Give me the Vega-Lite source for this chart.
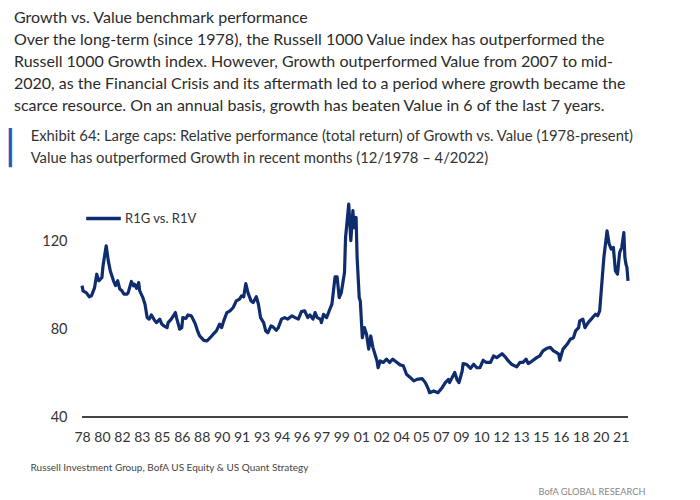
{
  "$schema": "https://vega.github.io/schema/vega-lite/v6.json",
  "background": "white",
  "padding": {"left": 9, "top": 10, "right": 10, "bottom": 4},
  "title": {
    "text": [
      "Growth vs. Value benchmark performance",
      "Over the long-term (since 1978), the Russell 1000 Value index has outperformed the",
      "Russell 1000 Growth index. However, Growth outperformed Value from 2007 to mid-",
      "2020, as the Financial Crisis and its aftermath led to a period where growth became the",
      "scarce resource. On an annual basis, growth has beaten Value in 6 of the last 7 years."
    ],
    "anchor": "start",
    "frame": "group",
    "dx": -68,
    "font": "Lato",
    "fontSize": 16,
    "fontWeight": "normal",
    "color": "#2b2b2b",
    "lineHeight": 22,
    "offset": 15
  },
  "config": {
    "view": {"stroke": null},
    "font": "Lato"
  },
  "vconcat": [
    {
      "width": 546,
      "height": 219,
      "title": {
        "text": "▏",
        "subtitle": [
          "\u2800\u2800Exhibit 64: Large caps: Relative performance (total return) of Growth vs. Value (1978-present)",
          "\u2800\u2800Value has outperformed Growth in recent months (12/1978 – 4/2022)"
        ],
        "anchor": "start",
        "frame": "group",
        "dx": -73,
        "font": "DejaVu Sans",
        "fontSize": 33,
        "fontWeight": "normal",
        "color": "#1f5cc4",
        "subtitleFont": "Lato, DejaVu Sans",
        "subtitleFontSize": 14.8,
        "subtitleColor": "#333333",
        "subtitleLineHeight": 22,
        "subtitlePadding": -37,
        "offset": 28
      },
      "data": {
        "values": [
          {"d": "1978-12-01", "v": 100}, {"d": "1979-01-01", "v": 97.6}, {"d": "1979-04-01", "v": 96.8},
          {"d": "1979-07-01", "v": 94.9}, {"d": "1979-09-01", "v": 95.3}, {"d": "1979-12-01", "v": 99.1},
          {"d": "1980-02-01", "v": 105.2}, {"d": "1980-04-01", "v": 102.2}, {"d": "1980-07-01", "v": 103.7},
          {"d": "1980-08-01", "v": 109}, {"d": "1980-11-01", "v": 118.2}, {"d": "1981-01-01", "v": 111.3},
          {"d": "1981-03-01", "v": 106.7}, {"d": "1981-06-01", "v": 102.2}, {"d": "1981-08-01", "v": 100},
          {"d": "1981-10-01", "v": 102.2}, {"d": "1981-12-01", "v": 98.4}, {"d": "1982-02-01", "v": 97.6},
          {"d": "1982-04-01", "v": 96.1}, {"d": "1982-07-01", "v": 96.1}, {"d": "1982-08-01", "v": 96.8},
          {"d": "1982-11-01", "v": 101.9}, {"d": "1983-01-01", "v": 99.9}, {"d": "1983-02-01", "v": 100.6},
          {"d": "1983-04-01", "v": 98.8}, {"d": "1983-06-01", "v": 101.4}, {"d": "1983-07-01", "v": 97.6},
          {"d": "1983-10-01", "v": 94.5}, {"d": "1983-12-01", "v": 91.5}, {"d": "1984-02-01", "v": 85.4},
          {"d": "1984-04-01", "v": 84.7}, {"d": "1984-06-01", "v": 86.6}, {"d": "1984-09-01", "v": 84.2},
          {"d": "1984-11-01", "v": 83.1}, {"d": "1985-02-01", "v": 84.7}, {"d": "1985-04-01", "v": 82.4},
          {"d": "1985-06-01", "v": 81.6}, {"d": "1985-09-01", "v": 80.8}, {"d": "1985-10-01", "v": 83.1},
          {"d": "1986-01-01", "v": 84.7}, {"d": "1986-05-01", "v": 87.7}, {"d": "1986-06-01", "v": 85.4},
          {"d": "1986-09-01", "v": 80.1}, {"d": "1986-11-01", "v": 80.8}, {"d": "1986-12-01", "v": 85.4},
          {"d": "1987-03-01", "v": 85}, {"d": "1987-05-01", "v": 86.6}, {"d": "1987-08-01", "v": 86.2},
          {"d": "1987-09-01", "v": 85.4}, {"d": "1987-12-01", "v": 82.4}, {"d": "1988-02-01", "v": 79.3},
          {"d": "1988-04-01", "v": 77}, {"d": "1988-08-01", "v": 75}, {"d": "1988-11-01", "v": 74.7},
          {"d": "1989-02-01", "v": 76.2}, {"d": "1989-05-01", "v": 77.8}, {"d": "1989-08-01", "v": 79.3},
          {"d": "1989-11-01", "v": 82.4}, {"d": "1990-01-01", "v": 80.8}, {"d": "1990-03-01", "v": 83.9},
          {"d": "1990-06-01", "v": 87.7}, {"d": "1990-09-01", "v": 88.5}, {"d": "1990-12-01", "v": 90},
          {"d": "1991-03-01", "v": 93}, {"d": "1991-06-01", "v": 93.8}, {"d": "1991-08-01", "v": 95.3},
          {"d": "1991-10-01", "v": 94.9}, {"d": "1991-12-01", "v": 100.9}, {"d": "1992-02-01", "v": 96.8},
          {"d": "1992-05-01", "v": 93}, {"d": "1992-07-01", "v": 92.3}, {"d": "1992-10-01", "v": 94.9},
          {"d": "1992-12-01", "v": 91.5}, {"d": "1993-02-01", "v": 85.4}, {"d": "1993-05-01", "v": 83.1},
          {"d": "1993-07-01", "v": 79.3}, {"d": "1993-09-01", "v": 78.5}, {"d": "1993-12-01", "v": 81.6},
          {"d": "1994-02-01", "v": 81.1}, {"d": "1994-05-01", "v": 79.6}, {"d": "1994-07-01", "v": 80.8},
          {"d": "1994-10-01", "v": 84.7}, {"d": "1995-01-01", "v": 85.4}, {"d": "1995-04-01", "v": 84.7},
          {"d": "1995-08-01", "v": 86.2}, {"d": "1995-11-01", "v": 85.4}, {"d": "1996-02-01", "v": 84.7},
          {"d": "1996-05-01", "v": 88.1}, {"d": "1996-08-01", "v": 88.5}, {"d": "1996-11-01", "v": 85.4},
          {"d": "1997-01-01", "v": 86.6}, {"d": "1997-04-01", "v": 84.7}, {"d": "1997-06-01", "v": 87.7},
          {"d": "1997-08-01", "v": 85.4}, {"d": "1997-11-01", "v": 84.7}, {"d": "1997-12-01", "v": 83.1},
          {"d": "1998-02-01", "v": 86.9}, {"d": "1998-05-01", "v": 85.4}, {"d": "1998-08-01", "v": 89.2},
          {"d": "1998-10-01", "v": 91.5}, {"d": "1999-01-01", "v": 104}, {"d": "1999-03-01", "v": 104},
          {"d": "1999-05-01", "v": 94.5}, {"d": "1999-07-01", "v": 96.8}, {"d": "1999-10-01", "v": 106},
          {"d": "1999-11-01", "v": 122}, {"d": "2000-02-01", "v": 137.2}, {"d": "2000-04-01", "v": 120.5},
          {"d": "2000-06-01", "v": 134.2}, {"d": "2000-07-01", "v": 126.5}, {"d": "2000-09-01", "v": 131.1},
          {"d": "2000-10-01", "v": 112.8}, {"d": "2000-12-01", "v": 94.5}, {"d": "2001-01-01", "v": 93},
          {"d": "2001-03-01", "v": 76.2}, {"d": "2001-05-01", "v": 80.8}, {"d": "2001-07-01", "v": 77.8},
          {"d": "2001-09-01", "v": 71}, {"d": "2001-11-01", "v": 77}, {"d": "2002-01-01", "v": 71.8},
          {"d": "2002-05-01", "v": 65.6}, {"d": "2002-06-01", "v": 62.5}, {"d": "2002-08-01", "v": 65.6},
          {"d": "2002-11-01", "v": 64.9}, {"d": "2003-02-01", "v": 66.4}, {"d": "2003-05-01", "v": 64.9},
          {"d": "2003-08-01", "v": 66.4}, {"d": "2003-12-01", "v": 64.9}, {"d": "2004-03-01", "v": 63.8},
          {"d": "2004-06-01", "v": 63.4}, {"d": "2004-09-01", "v": 59.5}, {"d": "2004-12-01", "v": 58.3},
          {"d": "2005-04-01", "v": 56.5}, {"d": "2005-07-01", "v": 57.2}, {"d": "2005-12-01", "v": 57.5},
          {"d": "2006-03-01", "v": 55.7}, {"d": "2006-06-01", "v": 52.6}, {"d": "2006-07-01", "v": 51.1},
          {"d": "2006-11-01", "v": 51.9}, {"d": "2007-03-01", "v": 51.1}, {"d": "2007-07-01", "v": 53.4},
          {"d": "2007-10-01", "v": 55.7}, {"d": "2008-01-01", "v": 57.2}, {"d": "2008-02-01", "v": 55.7},
          {"d": "2008-07-01", "v": 60.3}, {"d": "2008-09-01", "v": 57.2}, {"d": "2008-11-01", "v": 55.7},
          {"d": "2009-02-01", "v": 61}, {"d": "2009-03-01", "v": 64.4}, {"d": "2009-06-01", "v": 64.1},
          {"d": "2009-10-01", "v": 62.2}, {"d": "2010-01-01", "v": 64.1}, {"d": "2010-04-01", "v": 62.5},
          {"d": "2010-07-01", "v": 62.5}, {"d": "2010-10-01", "v": 65.9}, {"d": "2011-01-01", "v": 64.9},
          {"d": "2011-05-01", "v": 64.9}, {"d": "2011-08-01", "v": 67.9}, {"d": "2011-11-01", "v": 67.1},
          {"d": "2012-04-01", "v": 68.9}, {"d": "2012-07-01", "v": 67.5}, {"d": "2012-10-01", "v": 65.6},
          {"d": "2013-01-01", "v": 64.1}, {"d": "2013-06-01", "v": 62.9}, {"d": "2013-09-01", "v": 64.9},
          {"d": "2013-12-01", "v": 64.9}, {"d": "2014-03-01", "v": 66.4}, {"d": "2014-05-01", "v": 64.4},
          {"d": "2014-08-01", "v": 65.3}, {"d": "2015-01-01", "v": 67.1}, {"d": "2015-04-01", "v": 67.9},
          {"d": "2015-07-01", "v": 70.2}, {"d": "2015-11-01", "v": 71.4}, {"d": "2016-02-01", "v": 71.8},
          {"d": "2016-05-01", "v": 70.2}, {"d": "2016-08-01", "v": 69.4}, {"d": "2016-10-01", "v": 68.7},
          {"d": "2016-11-01", "v": 65.9}, {"d": "2017-02-01", "v": 71}, {"d": "2017-06-01", "v": 73.2},
          {"d": "2017-09-01", "v": 75.5}, {"d": "2017-12-01", "v": 76.2}, {"d": "2018-02-01", "v": 79.3},
          {"d": "2018-05-01", "v": 80.8}, {"d": "2018-06-01", "v": 83.9}, {"d": "2018-09-01", "v": 84.7},
          {"d": "2018-11-01", "v": 80.8}, {"d": "2019-02-01", "v": 83.1}, {"d": "2019-05-01", "v": 84.7},
          {"d": "2019-09-01", "v": 86.9}, {"d": "2019-11-01", "v": 86.2}, {"d": "2020-01-01", "v": 88.5},
          {"d": "2020-03-01", "v": 100.6}, {"d": "2020-05-01", "v": 112.8}, {"d": "2020-08-01", "v": 125},
          {"d": "2020-10-01", "v": 119}, {"d": "2020-12-01", "v": 116.7}, {"d": "2021-02-01", "v": 117.4},
          {"d": "2021-04-01", "v": 106.7}, {"d": "2021-06-01", "v": 105.2}, {"d": "2021-08-01", "v": 115.1},
          {"d": "2021-10-01", "v": 117.4}, {"d": "2021-12-01", "v": 124.2}, {"d": "2022-01-01", "v": 112.8},
          {"d": "2022-02-01", "v": 109.8}, {"d": "2022-03-01", "v": 108.2}, {"d": "2022-04-01", "v": 102.2}
        ]
      },
      "resolve": {"axis": {"y": "independent"}},
      "layer": [
        {
          "mark": {"type": "line", "strokeWidth": 3.2, "strokeJoin": "round"},
          "encoding": {
            "x": {
              "field": "d",
              "type": "temporal",
              "scale": {
                "type": "utc",
                "domain": [
                  {"year": 1978, "month": 12, "date": 1, "utc": true},
                  {"year": 2022, "month": 4, "date": 1, "utc": true}
                ]
              },
              "axis": {
                "values": [
                  {"year": 1978, "month": 12, "date": 1, "utc": true},
                  {"year": 1980, "month": 7, "date": 1, "utc": true},
                  {"year": 1982, "month": 2, "date": 1, "utc": true},
                  {"year": 1983, "month": 9, "date": 1, "utc": true},
                  {"year": 1985, "month": 4, "date": 1, "utc": true},
                  {"year": 1986, "month": 11, "date": 1, "utc": true},
                  {"year": 1988, "month": 6, "date": 1, "utc": true},
                  {"year": 1990, "month": 1, "date": 1, "utc": true},
                  {"year": 1991, "month": 8, "date": 1, "utc": true},
                  {"year": 1993, "month": 3, "date": 1, "utc": true},
                  {"year": 1994, "month": 10, "date": 1, "utc": true},
                  {"year": 1996, "month": 5, "date": 1, "utc": true},
                  {"year": 1997, "month": 12, "date": 1, "utc": true},
                  {"year": 1999, "month": 7, "date": 1, "utc": true},
                  {"year": 2001, "month": 2, "date": 1, "utc": true},
                  {"year": 2002, "month": 9, "date": 1, "utc": true},
                  {"year": 2004, "month": 4, "date": 1, "utc": true},
                  {"year": 2005, "month": 11, "date": 1, "utc": true},
                  {"year": 2007, "month": 6, "date": 1, "utc": true},
                  {"year": 2009, "month": 1, "date": 1, "utc": true},
                  {"year": 2010, "month": 8, "date": 1, "utc": true},
                  {"year": 2012, "month": 3, "date": 1, "utc": true},
                  {"year": 2013, "month": 10, "date": 1, "utc": true},
                  {"year": 2015, "month": 5, "date": 1, "utc": true},
                  {"year": 2016, "month": 12, "date": 1, "utc": true},
                  {"year": 2018, "month": 7, "date": 1, "utc": true},
                  {"year": 2020, "month": 2, "date": 1, "utc": true},
                  {"year": 2021, "month": 9, "date": 1, "utc": true}
                ],
                "format": "%y",
                "labelOverlap": false,
                "labelFlush": false,
                "labelBound": false,
                "ticks": false,
                "grid": false,
                "domain": false,
                "labelPadding": 13,
                "labelFontSize": 14,
                "labelColor": "#333333",
                "title": "Russell Investment Group, BofA US Equity & US Quant Strategy",
                "titleAnchor": "start",
                "titleAlign": "left",
                "titleX": -52,
                "titleY": 45,
                "titleFontSize": 10,
                "titleFontWeight": "normal",
                "titleColor": "#444444"
              }
            },
            "y": {
              "field": "v",
              "type": "quantitative",
              "scale": {"domain": [40, 140], "nice": false, "zero": false},
              "axis": {
                "values": [40, 80, 120],
                "grid": false,
                "domain": false,
                "ticks": false,
                "labelPadding": 15,
                "labelFontSize": 14.5,
                "labelColor": "#333333",
                "title": null
              }
            },
            "color": {
              "datum": "R1G vs. R1V",
              "type": "nominal",
              "scale": {"range": ["#0f2d6e"]},
              "legend": {
                "orient": "none",
                "legendX": 2,
                "legendY": 1,
                "title": null,
                "symbolType": "stroke",
                "symbolSize": 1200,
                "symbolStrokeWidth": 3.5,
                "labelFontSize": 13,
                "labelColor": "#333333",
                "labelOffset": 2
              }
            }
          }
        },
        {
          "mark": {"type": "rule", "color": "#444444", "strokeWidth": 2},
          "encoding": {
            "y": {
              "datum": 40,
              "type": "quantitative",
              "axis": {
                "orient": "right",
                "labels": false,
                "ticks": false,
                "domain": false,
                "grid": false,
                "title": "BofA GLOBAL RESEARCH",
                "titleAngle": 0,
                "titleX": 17,
                "titleY": 293,
                "titleAlign": "right",
                "titleBaseline": "middle",
                "titleFontSize": 9.3,
                "titleFontWeight": "normal",
                "titleColor": "#888888"
              }
            }
          }
        }
      ]
    }
  ]
}
